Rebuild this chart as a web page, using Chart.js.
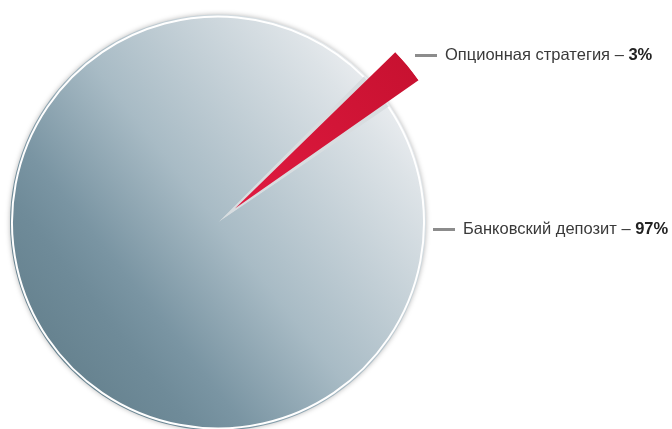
<!DOCTYPE html>
<html>
<head>
<meta charset="utf-8">
<script src="https://cdn.jsdelivr.net/npm/chart.js@4.4.0/dist/chart.umd.min.js"></script>
<style>
  html, body { margin: 0; padding: 0; background: #ffffff; }
  #wrap { width: 672px; height: 429px; position: relative; }
</style>
</head>
<body>
<div id="wrap"><canvas id="myChart" width="672" height="429"></canvas></div>
<script>
var labels = ['Опционная стратегия', 'Банковский депозит'];
var values = [3, 97];
var valueText = ['3%', '97%'];

var RADIUS = 206;

function pieCenter(chart) {
  var area = chart.chartArea;
  return { x: (area.left + area.right) / 2, y: (area.top + area.bottom) / 2 };
}

function pieGradient(chart) {
  if (!chart.chartArea) return '#a8bbc5';
  var c = pieCenter(chart);
  var g = chart.ctx.createLinearGradient(c.x - RADIUS * 0.8, c.y + RADIUS * 0.63, c.x + RADIUS * 0.8, c.y - RADIUS * 0.63);
  g.addColorStop(0, '#66828f');
  g.addColorStop(0.15, '#6f8b99');
  g.addColorStop(0.25, '#7a95a3');
  g.addColorStop(0.5, '#a8bbc5');
  g.addColorStop(0.92, '#dde3e7');
  g.addColorStop(1, '#e9ecef');
  return g;
}

function redGradient(chart) {
  if (!chart.chartArea) return '#d0163a';
  var c = pieCenter(chart);
  var g = chart.ctx.createLinearGradient(c.x, c.y, c.x + RADIUS * 0.95, c.y - RADIUS * 0.85);
  g.addColorStop(0, '#e01a40');
  g.addColorStop(1, '#c4102e');
  return g;
}

// full disc + light wedge behind the slices, rim and labels on top
var backdrop = {
  id: 'backdrop',
  beforeDatasetsDraw: function(chart) {
    var meta = chart.getDatasetMeta(0);
    var red = meta.data[0];
    var big = meta.data[1];
    var ctx = chart.ctx;
    ctx.save();
    ctx.shadowColor = 'rgba(0,0,0,0.28)';
    ctx.shadowBlur = 5;
    ctx.beginPath();
    ctx.arc(big.x, big.y, big.outerRadius + 2, 0, Math.PI * 2);
    ctx.fillStyle = pieGradient(chart);
    ctx.fill();
    ctx.restore();

    ctx.save();
    ctx.beginPath();
    ctx.moveTo(red.x, red.y);
    ctx.arc(red.x, red.y, red.outerRadius, red.startAngle - 0.004, red.endAngle + 0.004);
    ctx.closePath();
    ctx.fillStyle = '#d8dde0';
    ctx.fill();
    ctx.restore();
  },
  afterDatasetsDraw: function(chart) {
    var meta = chart.getDatasetMeta(0);
    var red = meta.data[0];
    var big = meta.data[1];
    var cx = big.x, cy = big.y;
    var ctx = chart.ctx;

    // white rim round the disc, skipping the pulled-out slice
    ctx.save();
    ctx.beginPath();
    ctx.arc(cx, cy, big.outerRadius, red.endAngle, red.startAngle + Math.PI * 2);
    ctx.strokeStyle = '#ffffff';
    ctx.lineWidth = 2;
    ctx.stroke();
    ctx.restore();

    // white rim line on the pulled-out slice
    var mid = (red.startAngle + red.endAngle) / 2;
    var sh = red.options.offset / 2;
    ctx.save();
    ctx.translate(Math.cos(mid) * sh, Math.sin(mid) * sh);
    ctx.beginPath();
    ctx.arc(red.x, red.y, red.outerRadius - 3, red.startAngle + 0.006, red.endAngle - 0.006);
    ctx.strokeStyle = '#ffffff';
    ctx.lineWidth = 1.6;
    ctx.stroke();
    ctx.restore();

    var spots = [
      { x: cx + 197, y: cy - 167 },
      { x: cx + 215, y: cy + 7 }
    ];
    ctx.save();
    for (var i = 0; i < labels.length; i++) {
      var p = spots[i];
      ctx.strokeStyle = '#8c8c8c';
      ctx.lineWidth = 3;
      ctx.beginPath();
      ctx.moveTo(p.x, p.y);
      ctx.lineTo(p.x + 22, p.y);
      ctx.stroke();

      ctx.textBaseline = 'middle';
      ctx.fillStyle = '#3a3a3a';
      ctx.font = '16.5px "Liberation Sans", Arial, sans-serif';
      var t = labels[i] + ' – ';
      ctx.fillText(t, p.x + 30, p.y);
      var w = ctx.measureText(t).width;
      ctx.font = 'bold 16.5px "Liberation Sans", Arial, sans-serif';
      ctx.fillStyle = '#222222';
      ctx.fillText(valueText[i], p.x + 30 + w, p.y);
    }
    ctx.restore();
  }
};

var ctx = document.getElementById('myChart').getContext('2d');
var myChart = new Chart(ctx, {
  type: 'pie',
  data: {
    labels: labels,
    datasets: [{
      data: values,
      backgroundColor: function(c) {
        return c.dataIndex === 0 ? redGradient(c.chart) : pieGradient(c.chart);
      },
      borderWidth: 0,
      offset: [88, 0]
    }]
  },
  options: {
    responsive: false,
    animation: false,
    radius: RADIUS,
    rotation: 45,
    layout: { padding: { left: 0, right: 236, top: 16, bottom: 0 } },
    plugins: {
      legend: { display: false },
      tooltip: { enabled: false }
    }
  },
  plugins: [backdrop]
});
</script>
</body>
</html>
